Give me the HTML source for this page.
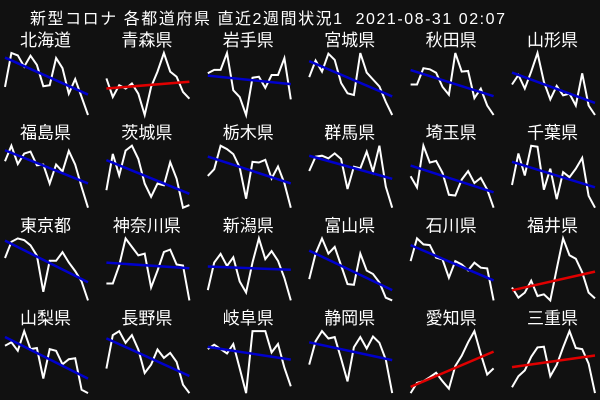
<!DOCTYPE html>
<html><head><meta charset="utf-8"><style>
html,body{margin:0;padding:0;background:#111;}
svg{display:block;font-family:"Liberation Sans","Noto Sans CJK JP",sans-serif;}
</style></head><body>
<svg id="c" width="600" height="400" viewBox="0 0 600 400">
<rect width="600" height="400" fill="#111"/>
<text x="30" y="24" fill="#fff" font-size="16" textLength="475" lengthAdjust="spacing" style="white-space:pre">新型コロナ 各都道府県 直近2週間状況1  2021-08-31 02:07</text>
</svg>
<script>
const prefectures=["北海道","青森県","岩手県","宮城県","秋田県","山形県","福島県","茨城県","栃木県","群馬県","埼玉県","千葉県","東京都","神奈川県","新潟県","富山県","石川県","福井県","山梨県","長野県","岐阜県","静岡県","愛知県","三重県"];
const hokkaido=[85,185,178,145,177,150,87,90,170,140,65,108,55,2];
const aomori=[110,55,90,80,95,65,2,85,130,185,130,115,70,50];
const iwate=[125,135,135,185,75,55,2,112,115,82,120,120,170,48];
const miyagi=[112,160,128,180,162,95,65,60,182,125,105,85,40,2];
const akita=[92,92,140,137,127,85,62,185,130,132,52,80,30,2];
const yamagata=[92,120,80,130,185,100,48,88,60,65,30,125,30,2];
const fukushima=[140,185,132,162,168,128,130,75,130,110,170,130,65,5];
const ibaraki=[55,165,100,175,190,150,75,35,75,70,140,90,2,10];
const tochigi=[100,120,190,180,165,125,32,142,140,148,92,128,78,5];
const gunma=[112,155,158,150,165,148,58,125,120,170,110,188,65,2];
const saitama=[95,62,185,135,140,105,40,38,85,110,75,90,55,2];
const chiba=[72,165,100,188,185,58,120,30,110,95,120,152,40,5];
const tokyo=[128,175,185,180,165,135,30,120,120,145,115,90,60,5];
const kanagawa=[52,52,105,185,160,135,140,40,90,145,152,108,105,2];
const niigata=[35,115,140,105,130,60,28,115,185,125,148,120,70,5];
const toyama=[65,140,185,140,160,105,50,48,140,90,80,55,10,2];
const ishikawa=[120,188,170,168,130,125,70,120,110,92,115,100,98,2];
const fukui=[40,10,25,60,15,20,2,95,185,135,125,85,25,8];
const yamanashi=[145,155,130,188,135,138,48,135,130,90,105,108,15,5];
const nagano=[78,178,190,155,178,135,65,90,135,110,125,98,30,5];
const gifu=[135,148,135,122,150,78,5,188,188,188,125,150,80,25];
const shizuoka=[90,160,190,168,172,108,40,142,172,138,174,155,105,5];
const aichi=[5,35,40,52,65,40,18,85,115,155,188,120,60,78];
const mie=[22,55,72,112,140,142,55,88,140,188,138,135,92,5];
const series=[hokkaido,aomori,iwate,miyagi,akita,yamagata,fukushima,ibaraki,tochigi,gunma,saitama,chiba,tokyo,kanagawa,niigata,toyama,ishikawa,fukui,yamanashi,nagano,gifu,shizuoka,aichi,mie];

const svg=document.getElementById('c');
const NS='http://www.w3.org/2000/svg';
series.forEach((vals,i)=>{
  const col=i%6,row=Math.floor(i/6);
  const x0=5+col*101.4,w=83;
  const tc=40+row*92.7;
  const yTop=tc+13,yBot=tc+75;
  const g=document.createElementNS(NS,'g');
  
  
  svg.appendChild(g);
  const t=document.createElementNS(NS,'text');
  
  
  t.setAttribute('x',x0+w/2-1);t.setAttribute('y',tc+6);
  t.setAttribute('fill','#fff');t.setAttribute('font-size','17');t.setAttribute('text-anchor','middle');
  t.textContent=prefectures[i];g.appendChild(t);
  const mn=Math.min(...vals),mx=Math.max(...vals);
  const n=vals.length;
  const xs=k=>x0+k*w/(n-1);
  const ys=v=>yBot-(v-mn)/(mx-mn)*(yBot-yTop);
  const p=document.createElementNS(NS,'polyline');
  
  
  p.setAttribute('points',vals.map((v,k)=>xs(k).toFixed(1)+','+ys(v).toFixed(1)).join(' '));
  p.setAttribute('fill','none');p.setAttribute('stroke','#fff');p.setAttribute('stroke-width','2');
  g.appendChild(p);
  let sx=0,sy=0,sxx=0,sxy=0;
  vals.forEach((v,k)=>{sx+=k;sy+=v;sxx+=k*k;sxy+=k*v;});
  const b=(n*sxy-sx*sy)/(n*sxx-sx*sx),a=(sy-b*sx)/n;
  const l=document.createElementNS(NS,'line');
  
  
  l.setAttribute('x1',xs(0));l.setAttribute('y1',ys(a));
  l.setAttribute('x2',xs(n-1));l.setAttribute('y2',ys(a+b*(n-1)));
  l.setAttribute('stroke',b>0?'#e00000':'#0000cc');l.setAttribute('stroke-width','2.5');
  g.appendChild(l);
});
</script>
</body></html>
